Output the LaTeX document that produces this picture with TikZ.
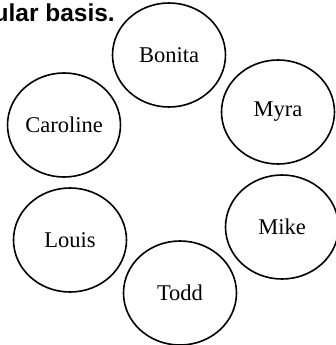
\documentclass[tikz,border=0pt]{standalone}
\usepackage{fontspec}
\setmainfont{Liberation Serif}
\newfontfamily\headfont{Liberation Sans}
\usetikzlibrary{shapes.geometric}
\begin{document}
\begin{tikzpicture}[x=1pt,y=-1pt,
  person/.style={draw, line width=1.6pt, ellipse, minimum width=113pt, minimum height=104pt, inner sep=0pt, font=\fontsize{22.5}{24}\selectfont}]
\useasboundingbox (0,0) rectangle (336,345);
\clip (0,0) rectangle (336,345);
\node[anchor=base east, inner sep=0pt, font=\headfont\bfseries\fontsize{24.5}{26}\selectfont] (head) at (115,22) {ular basis.};
\node[person] (bonita) at (169,55) {Bonita};
\node[person] (caroline) at (64,125) {Caroline};
\node[person] (myra) at (278,112) {Myra};
\node[person] (mike) at (282,227) {Mike};
\node[person] (louis) at (70,240) {Louis};
\node[person] (todd) at (180,293) {Todd};
\end{tikzpicture}
\end{document}
